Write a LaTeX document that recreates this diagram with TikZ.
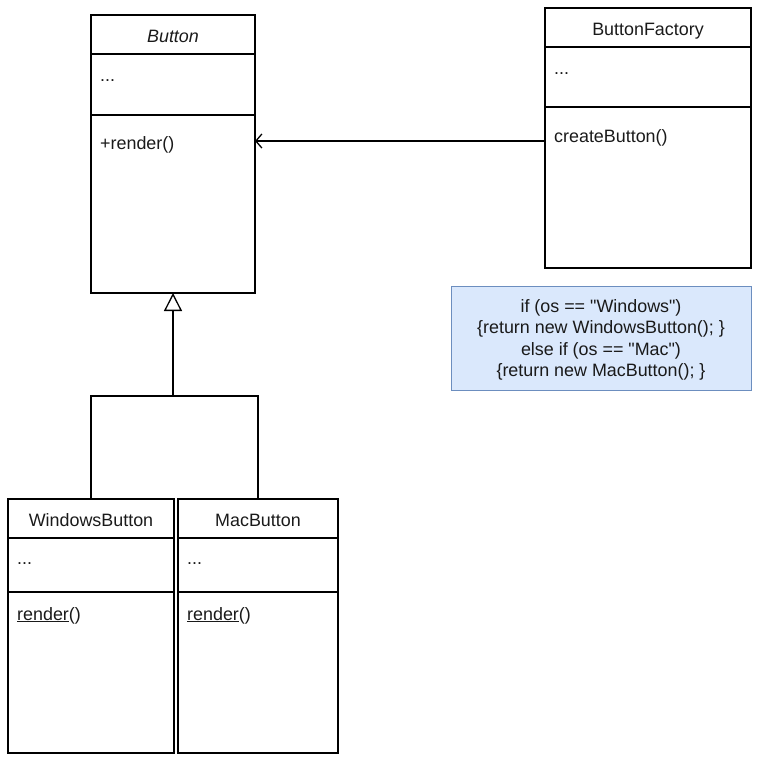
\documentclass[tikz,border=0pt]{standalone}
\usepackage{fontspec}
\setmainfont{Liberation Sans}
\usetikzlibrary{arrows.meta}
\definecolor{notefill}{HTML}{DAE8FC}
\definecolor{notedraw}{HTML}{6C8EBF}
\definecolor{txt}{HTML}{1A1A1A}
\newcommand{\dq}{\textquotedbl}
\begin{document}
\begin{tikzpicture}[x=1pt,y=-1pt,
  box/.style={draw, line width=1.3pt, anchor=north west, inner sep=0pt, outer sep=0pt},
  sep/.style={line width=1.3pt},
  lbl/.style={font=\fontsize{17.9}{20}\selectfont, text=txt, inner sep=0pt},
  lw/.style={lbl, anchor=base west},
  lc/.style={lbl, anchor=base},
  assoc/.style={line width=1.3pt, -{Straight Barb[length=6pt, width=14pt, line width=1.3pt]}},
  inherit/.style={line width=1.3pt, -{Triangle[open, length=18pt, width=18pt, line width=1.3pt]}},
  note/.style={draw=notedraw, fill=notefill, line width=1.3pt, anchor=north west, inner sep=0pt}]
\useasboundingbox (0,0) rectangle (761,764);
% Button
\node[box, minimum width=164pt, minimum height=278pt] (button) at (91,15) {};
\draw[sep] (91,54) -- (255,54);
\draw[sep] (91,115) -- (255,115);
\node[lc, font=\fontsize{17.9}{20}\selectfont\itshape] (bt) at (173,42) {Button};
\node[lw] (ba) at (100,81) {...};
\node[lw] (bo) at (100,149) {+render()};
% ButtonFactory
\node[box, minimum width=206pt, minimum height=260pt] (factory) at (545,8) {};
\draw[sep] (545,47) -- (751,47);
\draw[sep] (545,107) -- (751,107);
\node[lc] (ft) at (648,35) {ButtonFactory};
\node[lw] (fa) at (554,74) {...};
\node[lw] (fo) at (554,142) {createButton()};
% Note
\node[note, minimum width=300pt, minimum height=104pt] (note) at (451,286) {};
\node[lc] (n1) at (601,312) {if (os == \dq Windows\dq)};
\node[lc] (n2) at (601,333.5) {\{return new WindowsButton(); \}};
\node[lc] (n3) at (601,355) {else if (os == \dq Mac\dq)};
\node[lc] (n4) at (601,376.5) {\{return new MacButton(); \}};
% WindowsButton
\node[box, minimum width=166pt, minimum height=254pt] (win) at (8,499) {};
\draw[sep] (8,538) -- (174,538);
\draw[sep] (8,592) -- (174,592);
\node[lc] (wt) at (91,526) {WindowsButton};
\node[lw] (wa) at (17,564) {...};
\node[lw] (wo) at (17,620) {\underline{render}()};
% MacButton
\node[box, minimum width=160pt, minimum height=254pt] (mac) at (178,499) {};
\draw[sep] (178,538) -- (338,538);
\draw[sep] (178,592) -- (338,592);
\node[lc] (mt) at (258,526) {MacButton};
\node[lw] (ma) at (187,564) {...};
\node[lw] (mo) at (187,620) {\underline{render}()};
% connectors
\coordinate (opy) at (0,141);
\coordinate (joint) at (173,396);
\draw[assoc] (factory.west |- opy) -- (button.east |- opy);
\draw[sep] (win.north) -- (win.north |- joint) -- (mac.north |- joint) -- (mac.north);
\draw[inherit] (joint) -- (button.south);
\end{tikzpicture}
\end{document}
